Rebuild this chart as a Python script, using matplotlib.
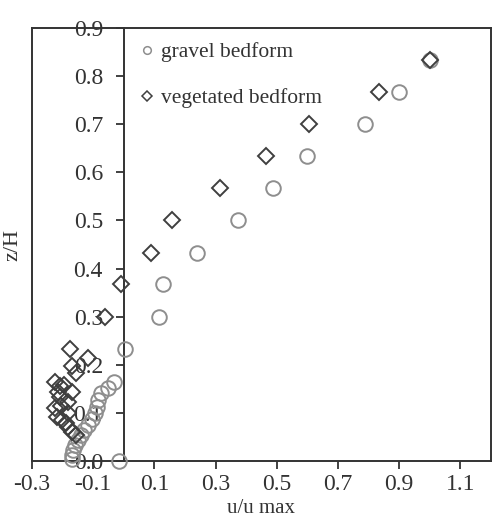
import matplotlib
matplotlib.use("Agg")
import matplotlib.pyplot as plt
from matplotlib.lines import Line2D

plt.rcParams['font.family'] = ['Liberation Serif', 'DejaVu Serif']

# gravel bedform (circles)
gravel_x = [1.0, 0.90, 0.789, 0.60, 0.489, 0.372, 0.238, 0.129, 0.116, 0.003,
            -0.032, -0.053, -0.073, -0.084, -0.089, -0.095, -0.105, -0.118,
            -0.129, -0.140, -0.151, -0.160, -0.165, -0.168, -0.168, -0.015]
gravel_z = [0.833, 0.767, 0.700, 0.633, 0.567, 0.500, 0.433, 0.367, 0.300, 0.233,
            0.165, 0.151, 0.141, 0.127, 0.113, 0.099, 0.087, 0.075,
            0.064, 0.054, 0.044, 0.033, 0.023, 0.012, 0.004, 0.0]

# vegetated bedform (diamonds)
veg_x = [1.0, 0.835, 0.606, 0.466, 0.314, 0.157, 0.089, -0.008, -0.062,
         -0.176, -0.118, -0.170, -0.157, -0.224, -0.208, -0.195, -0.170, -0.216,
         -0.208, -0.181, -0.224, -0.205, -0.183, -0.219, -0.203, -0.190, -0.181,
         -0.168, -0.157]
veg_z = [0.833, 0.767, 0.700, 0.633, 0.567, 0.500, 0.433, 0.367, 0.300,
         0.233, 0.215, 0.197, 0.182, 0.165, 0.156, 0.158, 0.144, 0.144,
         0.134, 0.123, 0.110, 0.114, 0.099, 0.092, 0.085, 0.078, 0.071,
         0.061, 0.054]

xticks = [-0.3, -0.1, 0.1, 0.3, 0.5, 0.7, 0.9, 1.1]
xtick_labels = ['-0.3', '-0.1', '0.1', '0.3', '0.5', '0.7', '0.9', '1.1']
yticks = [0.0, 0.1, 0.2, 0.3, 0.4, 0.5, 0.6, 0.7, 0.8, 0.9]
ytick_labels = ['0.0', '0.1', '0.2', '0.3', '0.4', '0.5', '0.6', '0.7', '0.8', '0.9']

fig = plt.figure(figsize=(4.92, 5.23), dpi=100)
ax = fig.add_axes([0.065, 0.1185, 0.933, 0.828])

gcol = '#8e8e8e'
vcol = '#3f3f3f'
ax.plot(gravel_x, gravel_z, 'o', ms=10.5, mfc='none', mec=gcol, mew=1.4,
        clip_on=False, zorder=3)
ax.plot(veg_x, veg_z, 'D', ms=8.3, mfc='none', mec=vcol, mew=1.4,
        clip_on=False, zorder=4)

ax.set_xlim(-0.295, 1.2)
ax.set_ylim(0, 0.9)

spcol = '#333333'
for s in ['top', 'right', 'bottom', 'left']:
    ax.spines[s].set_linewidth(1.4)
    ax.spines[s].set_color(spcol)
ax.spines['left'].set_position(('data', 0))
ax.plot([0, 0], [0, 1], transform=ax.transAxes, color=spcol, lw=1.4,
        clip_on=False, zorder=5)

ax.set_xticks(xticks)
ax.set_xticklabels(xtick_labels)
ax.set_yticks(yticks)
ax.set_yticklabels(ytick_labels)
ax.tick_params(axis='both', direction='out', length=6, width=1.3,
               color=spcol, labelsize=17, labelcolor='#333333')
ax.tick_params(axis='x', pad=3)
ax.tick_params(axis='y', pad=9)

ax.set_ylabel('z/H', fontsize=16, color='#333333', labelpad=0)
ax.yaxis.set_label_coords(-0.022, 0.5)
ax.set_xlabel('u/u max', fontsize=15, color='#333333')
ax.xaxis.set_label_coords(0.5, -0.088)

handles = [
    Line2D([], [], marker='o', ls='none', ms=5.5, mfc='none', mec=gcol, mew=1.1),
    Line2D([], [], marker='D', ls='none', ms=4.8, mfc='none', mec=vcol, mew=1.1),
]
ax.legend(handles, ['gravel bedform', 'vegetated bedform'], loc='upper left',
          bbox_to_anchor=(0.195, 1.012), frameon=False, fontsize=15.5,
          handlelength=0.6, handletextpad=0.35, labelspacing=1.2,
          labelcolor='#333333')

fig.savefig('out.png', dpi=100)
